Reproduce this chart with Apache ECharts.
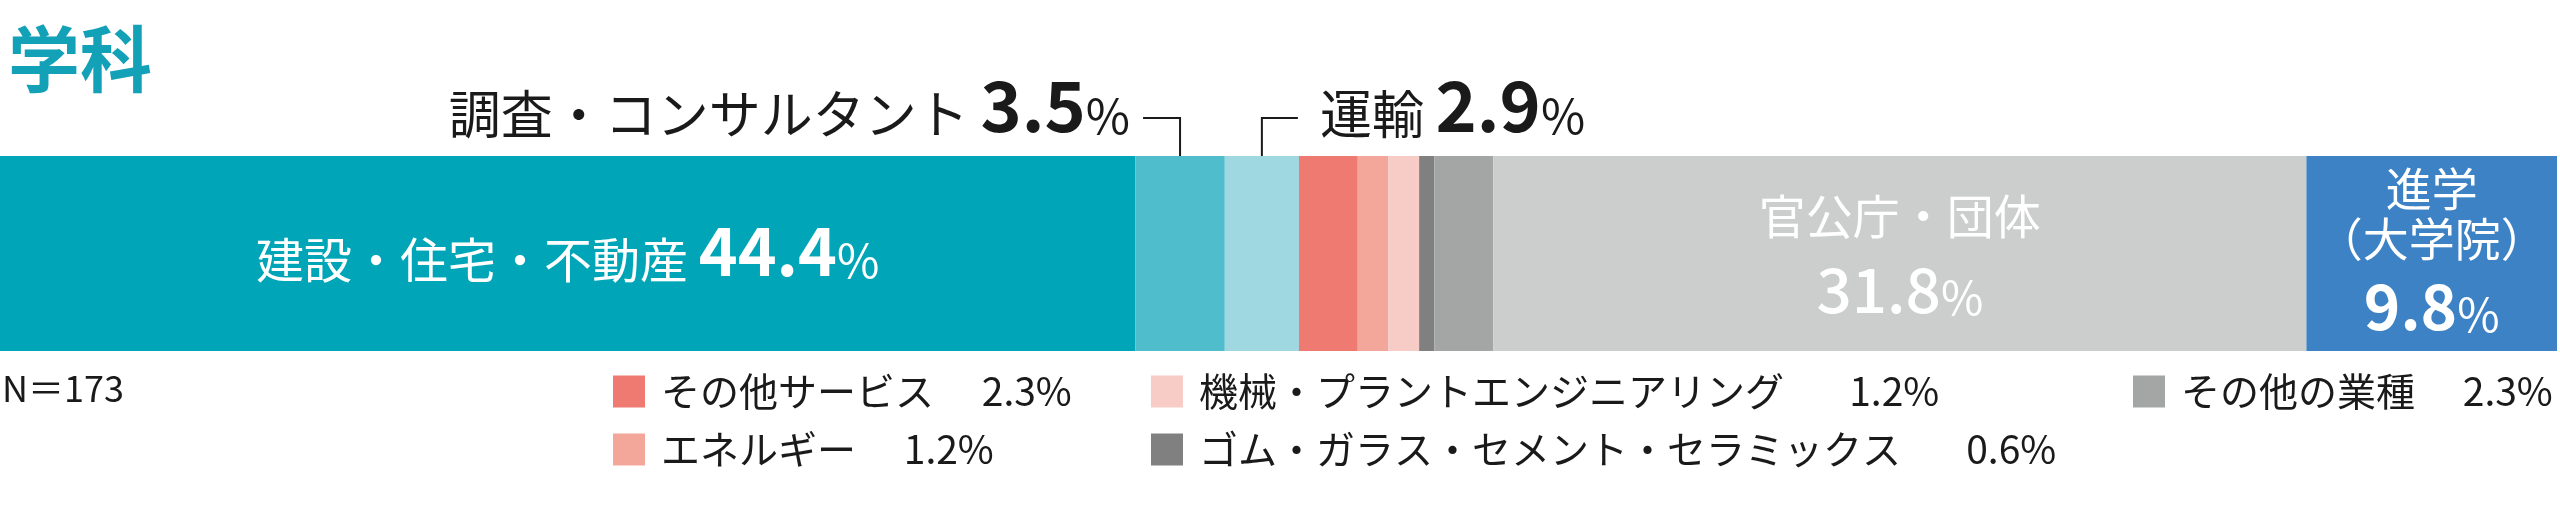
<!DOCTYPE html>
<html>
<head>
<meta charset="utf-8">
<script src="https://cdn.jsdelivr.net/npm/echarts/dist/echarts.min.js"></script>
<style>
  html, body { margin: 0; padding: 0; background: #fff; }
  #chart { width: 2560px; height: 512px; }
</style>
</head>
<body>
<div id="chart"></div>
<script>
// 学科 卒業後の進路（N=173）
const categories = [
  '建設・住宅・不動産',
  '調査・コンサルタント',
  '運輸',
  'その他サービス',
  'エネルギー',
  '機械・プラントエンジニアリング',
  'ゴム・ガラス・セメント・セラミックス',
  'その他の業種',
  '官公庁・団体',
  '進学（大学院）'
];
const values = [44.4, 3.5, 2.9, 2.3, 1.2, 1.2, 0.6, 2.3, 31.8, 9.8];
const sampleSize = 173;
const rowName = ['学科'];

// 凡例の列（カテゴリ名）
const legendCol1 = ['その他サービス', 'エネルギー'];
const legendCol2 = ['機械・プラントエンジニアリング', 'ゴム・ガラス・セメント・セラミックス'];
const legendCol3 = ['その他の業種'];

const colors = ['#00a6b7', '#4fbdcb', '#a0d8e2', '#ee7a72', '#f3a79b', '#f8ccc6', '#808080', '#a4a5a5', '#cccdcd', '#3d82c4'];

const FONT = '"Noto Sans CJK JP", "Noto Sans", sans-serif';
const GRID_TOP = 156;
const GRID_H = 195;

const chart = echarts.init(document.getElementById('chart'));

const fmt = v => v.toFixed(1);

// バー内ラベル
const insideLabels = {
  '建設・住宅・不動産': {
    formatter: p => '{n|' + p.seriesName + ' }{v|' + fmt(p.value) + '}{p|%}',
    offset: [0, -3],
    rich: {
      n: { fontSize: 48, lineHeight: 48, verticalAlign: 'bottom', color: '#fff', fontFamily: FONT },
      v: { fontSize: 66, lineHeight: 66, fontWeight: 'bold', verticalAlign: 'bottom', color: '#fff', fontFamily: FONT },
      p: { fontSize: 46, lineHeight: 46, verticalAlign: 'bottom', color: '#fff', fontFamily: FONT }
    }
  },
  '官公庁・団体': {
    formatter: p => '{n|' + p.seriesName + '}\n{v|' + fmt(p.value) + '}{p|%}',
    offset: [0, -6],
    rich: {
      n: { fontSize: 47, lineHeight: 84, verticalAlign: 'middle', color: '#fff', fontFamily: FONT },
      v: { fontSize: 62, lineHeight: 62, fontWeight: 500, verticalAlign: 'bottom', color: '#fff', fontFamily: FONT },
      p: { fontSize: 46, lineHeight: 46, verticalAlign: 'bottom', color: '#fff', fontFamily: FONT }
    }
  },
  '進学（大学院）': {
    formatter: p => '{a|進学}\n{b|（大学院）}\n{v|' + fmt(p.value) + '}{p|%}',
    offset: [0, 3],
    rich: {
      a: { fontSize: 46, lineHeight: 26, verticalAlign: 'middle', color: '#fff', fontFamily: FONT },
      b: { fontSize: 46, lineHeight: 74, verticalAlign: 'middle', color: '#fff', fontFamily: FONT },
      v: { fontSize: 62, lineHeight: 62, fontWeight: 'bold', verticalAlign: 'bottom', color: '#fff', fontFamily: FONT },
      p: { fontSize: 46, lineHeight: 46, verticalAlign: 'bottom', color: '#fff', fontFamily: FONT }
    }
  }
};

const series = categories.map((name, i) => {
  const lab = insideLabels[name];
  return {
    type: 'bar',
    name: name,
    stack: 'total',
    barWidth: '100%',
    data: [values[i]],
    itemStyle: { color: colors[i] },
    emphasis: { disabled: true },
    label: lab ? {
      show: true,
      position: 'inside',
      align: 'center',
      formatter: lab.formatter,
      offset: lab.offset,
      rich: lab.rich
    } : { show: false }
  };
});

const legendBase = {
  orient: 'vertical',
  top: 372,
  padding: 0,
  itemWidth: 32,
  itemHeight: 32,
  itemGap: 19,
  icon: 'rect',
  selectedMode: false,
  textStyle: { fontSize: 39, lineHeight: 38, color: '#1a1a1a', fontFamily: FONT, padding: [0, 0, 0, 11] },
  formatter: name => name + '　 ' + fmt(values[categories.indexOf(name)]) + '%'
};

const option = {
  animation: false,
  textStyle: { fontFamily: FONT },
  title: [
    {
      text: '学科', left: 8, top: 23, padding: 0,
      textStyle: { color: '#12a1b6', fontSize: 72, lineHeight: 72, fontWeight: 'bold', fontFamily: FONT }
    },
    {
      text: 'N＝' + sampleSize, left: 2, top: 369, padding: 0,
      textStyle: { color: '#1a1a1a', fontSize: 36, lineHeight: 38, fontWeight: 'normal', fontFamily: FONT }
    }
  ],
  legend: [
    Object.assign({}, legendBase, { data: legendCol1, left: 613 }),
    Object.assign({}, legendBase, { data: legendCol2, left: 1151, formatter: name => name + '　   ' + fmt(values[categories.indexOf(name)]) + '%' }),
    Object.assign({}, legendBase, { data: legendCol3, left: 2133 })
  ],
  grid: { left: 0, right: 3, top: GRID_TOP, height: GRID_H, containLabel: false },
  xAxis: { type: 'value', min: 0, max: 100, show: false },
  yAxis: { type: 'category', data: rowName, show: false },
  tooltip: { show: false },
  series: series
};

chart.setOption(option);

// 引き出し線つき注記（バー位置はスケールから計算）
const starts = [];
let acc = 0;
values.forEach(v => { starts.push(acc); acc += v; });
const px = v => chart.convertToPixel({ gridIndex: 0 }, [v, 0])[0];
const midOf = i => (px(starts[i]) + px(starts[i] + values[i])) / 2;

const leaderY = 118;
const leaderEnd = GRID_TOP + 23;
const noteRich = {
  n: { fontSize: 52, lineHeight: 52, verticalAlign: 'bottom', fill: '#1a1a1a', fontFamily: FONT },
  v: { fontSize: 70, lineHeight: 70, fontWeight: 'bold', verticalAlign: 'bottom', fill: '#1a1a1a', fontFamily: FONT },
  p: { fontSize: 48, lineHeight: 48, verticalAlign: 'bottom', fill: '#1a1a1a', fontFamily: FONT }
};
const c1 = midOf(1);
const c2 = midOf(2);

chart.setOption({
  graphic: [
    {
      type: 'polyline', silent: true,
      shape: { points: [[c1 - 37, leaderY], [c1, leaderY], [c1, leaderEnd]] },
      style: { stroke: '#1a1a1a', lineWidth: 2, fill: null }
    },
    {
      type: 'polyline', silent: true,
      shape: { points: [[c2 + 36, leaderY], [c2, leaderY], [c2, leaderEnd]] },
      style: { stroke: '#1a1a1a', lineWidth: 2, fill: null }
    },
    {
      type: 'text', silent: true,
      style: {
        text: '{n|' + categories[1] + ' }{v|' + fmt(values[1]) + '}{p|%}',
        x: c1 - 50, y: 140, align: 'right', verticalAlign: 'bottom', rich: noteRich
      }
    },
    {
      type: 'text', silent: true,
      style: {
        text: '{n|' + categories[2] + ' }{v|' + fmt(values[2]) + '}{p|%}',
        x: c2 + 58, y: 140, align: 'left', verticalAlign: 'bottom', rich: noteRich
      }
    }
  ]
});
</script>
</body>
</html>
